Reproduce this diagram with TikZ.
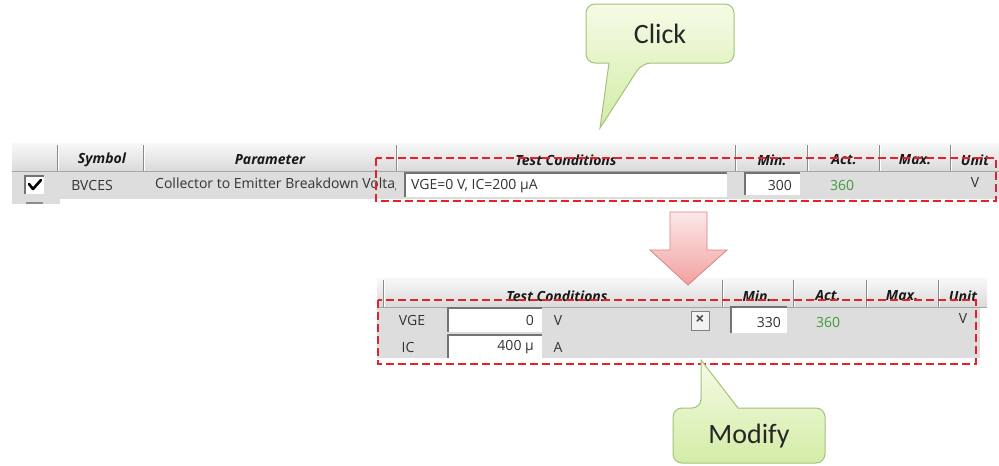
\documentclass[tikz,border=0pt]{standalone}
\usepackage{fontspec}
\setmainfont{Open Sans}
\newfontfamily\calfont{Carlito}
\definecolor{redd}{HTML}{E8202A}
\definecolor{sepc}{HTML}{8A8A8A}
\definecolor{rowg}{HTML}{DDDDDD}
\definecolor{hdtop}{HTML}{F8F8F8}
\definecolor{hdbot}{HTML}{DADADA}
\definecolor{actg}{HTML}{3F9A3A}
\definecolor{txt}{HTML}{333333}
\definecolor{calltop}{HTML}{F5FBE6}
\definecolor{callbot}{HTML}{D3ECA6}
\definecolor{callbd}{HTML}{A3C27A}
\definecolor{pinktop}{HTML}{FDE8E8}
\definecolor{pinkbot}{HTML}{F2A0A0}
\definecolor{pinkbd}{HTML}{DD8080}
\tikzset{
  hd/.style={font=\fontsize{14}{16}\selectfont\bfseries\itshape, text=black!90, inner sep=0pt},
  cell/.style={font=\fontsize{14}{16}\selectfont, text=txt, inner sep=0pt},
  sel/.style={draw=redd, line width=2.4pt, dash pattern=on 8pt off 4pt},
  sepline/.style={draw=sepc, line width=1pt},
  hilite/.style={draw=white, line width=1pt},
  fieldbox/.style={fill=white},
  fieldedge/.style={draw=black!55, line width=1.2pt},
  callout/.style={top color=calltop, bottom color=callbot, draw=callbd, line width=1pt},
  calltext/.style={font=\calfont\fontsize{28}{32}\selectfont, text=black!85, inner sep=0pt},
  bigarrow/.style={top color=pinktop, bottom color=pinkbot, draw=pinkbd, line width=0.8pt, line join=miter},
}
\begin{document}
\begin{tikzpicture}[x=1pt,y=-1pt]
\useasboundingbox[fill=white] (0,0) rectangle (999,466);

% ---------- top table ----------
\shade[top color=hdtop, bottom color=hdbot] (12,143) rectangle (999,171);
\fill[rowg] (12,171) rectangle (999,199);
\fill[rowg] (12,199) rectangle (60,204);
\draw[black!35] (12,171) -- (999,171);
\foreach \x in {57,143,396,735,807,879,950}{
  \draw[sepline] (\x,145) -- (\x,171);
  \draw[hilite] (\x+1,145) -- (\x+1,171);
}
\node[hd] (hsym) at (102,160) {Symbol};
\node[hd] (hpar) at (270,160) {Parameter};
\node[hd] (htc) at (566,160) {Test Conditions};
\node[hd] (hmin) at (772,160) {Min.};
\node[hd] (hact) at (844,160) {Act.};
\node[hd] (hmax) at (915,160) {Max.};
\node[hd] (hunit) at (975,160) {Unit};

% checkbox
\fill[white] (25,176) rectangle (44,194);
\draw[black!55, line width=1.2pt] (25,194) -- (25,176) -- (44,176);
\draw[black, line width=2.6pt, line cap=round, line join=round] (29,184) -- (33,189) -- (41,180);
\draw[black!45, line width=1.5pt] (26,203) -- (43,203);

\node[cell] (sym) at (92,185) {BVCES};
\begin{scope}
  \clip (150,172) rectangle (395,198);
  \node[cell, anchor=west] (par) at (155,185) {Collector to Emitter Breakdown Voltage};
\end{scope}
\fill[fieldbox] (405,173) rectangle (727,197);
\draw[fieldedge] (405,197) -- (405,173) -- (727,173);
\node[cell, anchor=west] (tc) at (411,186) {VGE=0 V, IC=200 μA};
\fill[fieldbox] (745,173) rectangle (800,195);
\draw[fieldedge] (745,195) -- (745,173) -- (800,173);
\node[cell, anchor=east] (min) at (792,185) {300};
\node[cell, text=actg] (act) at (842,185) {360};
\node[cell] (unit) at (975,182) {V};

% ---------- bottom table ----------
\shade[top color=hdtop, bottom color=hdbot] (377,278) rectangle (987,307);
\fill[rowg] (377,307) rectangle (980,358);
\draw[black!35] (377,307) -- (987,307);
\foreach \x in {383,722,793,866,938}{
  \draw[sepline] (\x,280) -- (\x,307);
  \draw[hilite] (\x+1,280) -- (\x+1,307);
}
\node[hd] (btc) at (557,296) {Test Conditions};
\node[hd] (bmin) at (757,296) {Min.};
\node[hd] (bact) at (828,296) {Act.};
\node[hd] (bmax) at (902,296) {Max.};
\node[hd] (bunit) at (963,296) {Unit};

\node[cell] (vge) at (412,320) {VGE};
\fill[fieldbox] (448,308) rectangle (542,332);
\draw[fieldedge] (448,332) -- (448,308) -- (542,308);
\node[cell, anchor=east] (vgev) at (534,320) {0};
\node[cell] (vgeu) at (558,320) {V};
\fill[black!5] (691,311) rectangle (709,330);
\draw[black!50, line width=1pt] (691,311) rectangle (709,330);
\node[font=\fontsize{16}{18}\selectfont\bfseries, text=black!70, inner sep=0pt] (xbtn) at (700,320) {×};
\fill[fieldbox] (731,307) rectangle (787,333);
\draw[fieldedge] (731,333) -- (731,307) -- (787,307);
\node[cell, anchor=east] (bminv) at (781,322) {330};
\node[cell, text=actg] (bactv) at (828,322) {360};
\node[cell] (bunitv) at (963,318) {V};

\node[cell] (ic) at (408,347) {IC};
\fill[fieldbox] (448,335) rectangle (542,358);
\draw[fieldedge] (448,358) -- (448,335) -- (542,335);
\node[cell, anchor=east] (icv) at (534,347) {400 μ};
\node[cell] (icu) at (558,347) {A};

% ---------- selections ----------
\draw[sel] (376,158) rectangle (996,201);
\draw[sel] (378,300) rectangle (976,364);

% ---------- big arrow ----------
\shadedraw[bigarrow] (670,212) -- (707,212) -- (707,250) -- (727,250) -- (688,285) -- (650,250) -- (670,250) -- cycle;

% ---------- callouts ----------
\shadedraw[callout] (600,128) -- (609,63) [rounded corners=9pt] -- (586,63) -- (586,4) -- (734,4) -- (734,63) -- (642,63) [sharp corners] -- cycle;
\node[calltext] (click) at (660,34) {Click};

\shadedraw[callout] (701,360) -- (738,408) [rounded corners=9pt] -- (825,408) -- (825,463) -- (673,463) -- (673,408) -- (701,408) [sharp corners] -- cycle;
\node[calltext] (modify) at (749,436) {Modify};
\end{tikzpicture}
\end{document}
